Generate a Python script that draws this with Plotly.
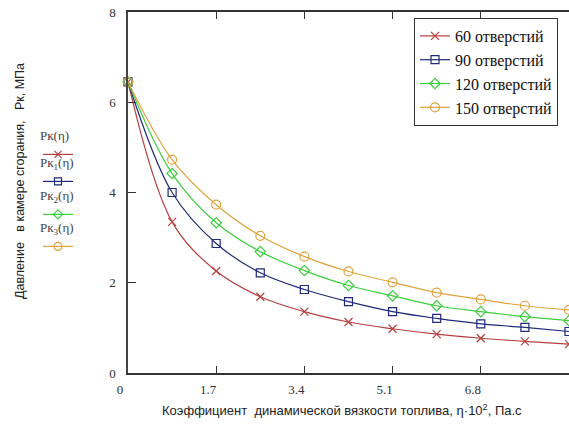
import plotly.graph_objects as go

# Data
eta = [0, 0.85, 1.7, 2.55, 3.4, 4.25, 5.1, 5.95, 6.8, 7.65, 8.5]
p60 = [6.45, 3.35, 2.26, 1.69, 1.36, 1.13, 0.98, 0.86, 0.77, 0.70, 0.64]
p90 = [6.45, 4.00, 2.87, 2.22, 1.85, 1.58, 1.36, 1.21, 1.09, 1.01, 0.92]
p120 = [6.45, 4.42, 3.33, 2.69, 2.27, 1.94, 1.71, 1.49, 1.36, 1.25, 1.16]
p150 = [6.45, 4.73, 3.73, 3.04, 2.58, 2.25, 2.01, 1.78, 1.63, 1.49, 1.40]

series_names = ["60 отверстий", "90 отверстий", "120 отверстий", "150 отверстий"]
side_labels = ["Рк(η)", "Рк<sub>1</sub>(η)", "Рк<sub>2</sub>(η)", "Рк<sub>3</sub>(η)"]
x_ticks = [0, 1.7, 3.4, 5.1, 6.8, 8.5]
y_ticks = [0, 2, 4, 6, 8]

colors = ["#b5413f", "#1f2a7a", "#3ccf3c", "#e0a23c"]
symbols = ["x-thin-open", "square-open", "diamond-open", "circle-open"]
sizes = [8, 8, 8, 9]
series = [p60, p90, p120, p150]

SERIF = "Times New Roman, Liberation Serif, DejaVu Serif, serif"
SANS = "Arial, Liberation Sans, sans-serif"

W, H = 569, 428
L, R, T, B = 128, 0, 12, 55
pw, ph = W - L - R, H - T - B

def px_x(px):
    return (px - L) / pw

def px_y(py):
    return (H - B - py) / ph

fig = go.Figure()
for i, (name, ys) in enumerate(zip(series_names, series)):
    fig.add_trace(go.Scatter(
        x=eta, y=ys, name=name, mode="lines+markers",
        line=dict(color=colors[i], width=1.2, shape="spline", smoothing=1.0),
        marker=dict(symbol=symbols[i], size=sizes[i], color=colors[i],
                    line=dict(color=colors[i], width=1.2)),
        cliponaxis=False, legend="legend",
    ))

# side legends (label above sample)
side_tops = [123, 150, 183, 215]
for i in range(4):
    lg = "legend%d" % (i + 2)
    fig.add_trace(go.Scatter(
        x=[None], y=[None], name="\u00a0", mode="lines+markers",
        line=dict(color=colors[i], width=1.2),
        marker=dict(symbol=symbols[i], size=sizes[i] - 1, color=colors[i],
                    line=dict(color=colors[i], width=1.2)),
        legend=lg, showlegend=True,
    ))

layout_legends = {}
for i in range(4):
    layout_legends["legend%d" % (i + 2)] = dict(
        x=px_x(38), y=px_y(side_tops[i]), xanchor="left", yanchor="top",
        xref="paper", yref="paper",
        title=dict(text=side_labels[i], side="top",
                   font=dict(family=SERIF, size=13, color="#444")),
        bgcolor="rgba(0,0,0,0)", borderwidth=0,
        font=dict(family=SERIF, size=4, color="#444"),
        itemwidth=30,
    )

fig.update_layout(
    width=W, height=H, autosize=False,
    margin=dict(l=L, r=R, t=T, b=B, pad=0),
    paper_bgcolor="white", plot_bgcolor="white",
    showlegend=True,
    legend=dict(
        x=px_x(414), y=px_y(18), xanchor="left", yanchor="top",
        bgcolor="white", bordercolor="#333", borderwidth=1,
        font=dict(family=SERIF, size=16, color="#111"),
        itemwidth=30, tracegroupgap=0,
    ),
    xaxis=dict(
        range=[0, 8.5], tickvals=x_ticks, showgrid=False, zeroline=False,
        showline=True, linecolor="#333", linewidth=1.5, mirror="ticks",
        ticks="inside", ticklen=7, tickcolor="#333",
        tickfont=dict(family=SERIF, size=13, color="#333"),
        ticklabelshift=-8, ticklabelstandoff=4,
    ),
    yaxis=dict(
        range=[0, 8], tickvals=y_ticks, showgrid=False, zeroline=False,
        showline=True, linecolor="#444", linewidth=1.5,
        ticks="inside", ticklen=8, tickcolor="#333",
        tickfont=dict(family=SERIF, size=13, color="#333"),
        ticklabelstandoff=8,
    ),
    yaxis2=dict(
        range=[0, 8], tickvals=y_ticks, overlaying="y", side="right", anchor="x",
        showgrid=False, zeroline=False, showline=False, showticklabels=False,
        ticks="inside", ticklen=7, tickcolor="#333",
    ),
    annotations=[
        dict(text="Коэффициент\u00a0\u00a0динамической вязкости топлива, η·10<sup>2</sup>, Па.с",
             x=px_x(342), y=px_y(410), xref="paper", yref="paper",
             xanchor="center", yanchor="middle", showarrow=False,
             font=dict(family=SANS, size=13, color="#222")),
        dict(text="Давление\u00a0\u00a0\u00a0в камере сгорания,\u00a0\u00a0\u00a0Рк, МПа",
             x=px_x(20), y=px_y(181), xref="paper", yref="paper",
             xanchor="center", yanchor="middle", showarrow=False, textangle=-90,
             font=dict(family=SANS, size=12.5, color="#222")),
    ],
    **layout_legends,
)

fig.write_html("out.html")
